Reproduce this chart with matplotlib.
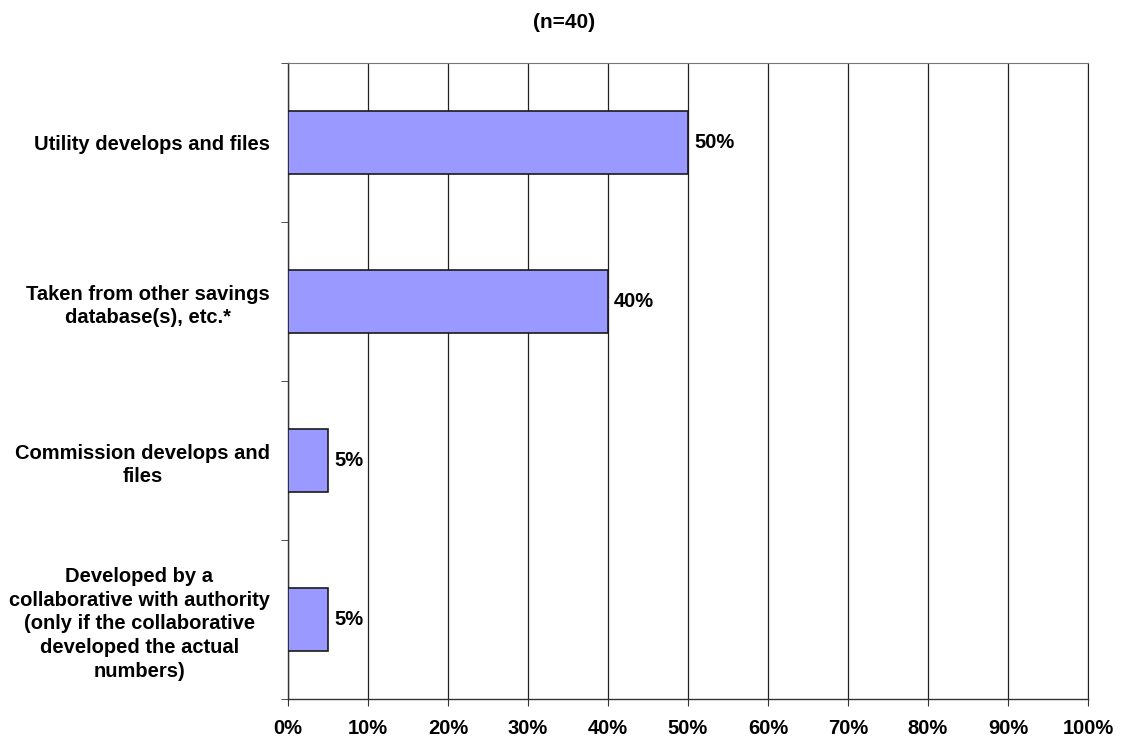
import matplotlib.pyplot as plt
import numpy as np

plt.rcParams["font.family"] = ["Liberation Sans", "DejaVu Sans"]
plt.rcParams["font.weight"] = "bold"

categories = [
    "Utility develops and files",
    "Taken from other savings\ndatabase(s), etc.*",
    "Commission develops and\nfiles",
    "Developed by a\ncollaborative with authority\n(only if the collaborative\ndeveloped the actual\nnumbers)",
]
values = [50, 40, 5, 5]
x_ticks = list(range(0, 101, 10))
title = "(n=40)"

fig = plt.figure(figsize=(11.22, 7.42), dpi=100)
ax = fig.add_axes([288 / 1122, 1 - 699 / 742, 800 / 1122, 636 / 742])

pos = np.arange(len(categories))
ax.barh(pos, values, height=0.4, color="#9999FF", edgecolor="#1a1a1a", linewidth=1.2, zorder=3)
for p, v in zip(pos, values):
    ax.annotate(f"{v}%", (v, p), xytext=(4.5, 0), textcoords="offset points",
                va="center", ha="left", fontsize=14.5, fontweight="bold")

ax.set_xlim(0, 100)
ax.set_ylim(len(categories) - 0.5, -0.5)
ax.set_xticks(x_ticks)
ax.set_xticklabels([f"{t}%" for t in x_ticks], fontsize=14.5, fontweight="bold")
ax.set_yticks(pos)
ax.set_yticklabels(categories, fontsize=14.5, fontweight="bold", ha="right",
                   multialignment="center", linespacing=1.32)
ax.tick_params(axis="y", length=0, pad=13)
ax.set_yticks(np.arange(-0.5, len(categories)), minor=True)
ax.tick_params(axis="y", which="minor", length=5, direction="out", color="#333333")
ax.tick_params(axis="x", length=5, direction="out", pad=9.5, color="#333333")

ax.grid(True, axis="x", color="#222222", linewidth=0.9, zorder=0)
for side in ["left", "bottom"]:
    ax.spines[side].set_color("#333333")
    ax.spines[side].set_linewidth(1.0)
ax.spines["top"].set_color("#777777")
ax.spines["right"].set_color("#222222")

fig.text(564 / 1122, 1 - 23 / 742, title, ha="center", va="center", fontsize=15, fontweight="bold")

fig.savefig("out.png", dpi=100)
